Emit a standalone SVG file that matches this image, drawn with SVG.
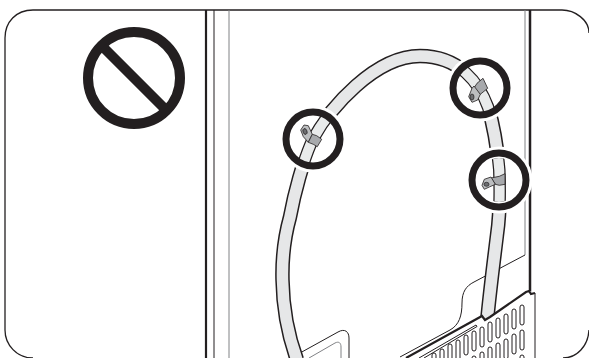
<svg xmlns="http://www.w3.org/2000/svg" width="589" height="358" viewBox="0 0 589 358">
<style>
.ln{fill:none;stroke:#231f20;stroke-width:1}
.clip{fill:#a7a9ac;stroke:#231f20;stroke-width:.8;stroke-linejoin:round}
.tab{fill:#bcbec0;stroke:#231f20;stroke-width:.8;stroke-linejoin:round}
.eye{fill:#6d6e71;stroke:#231f20;stroke-width:.7}
.ring{fill:none;stroke:#231f20;stroke-width:7}
.halo{fill:#fff}
.slot{fill:#fff;stroke:#231f20;stroke-width:1}
.tb{fill:none;stroke:#231f20;stroke-width:14.500}
.tf{fill:none;stroke:#e6e7e8;stroke-width:11.500}
.tbi{fill:none;stroke:#231f20;stroke-width:12.500}
.tfi{fill:none;stroke:#e9ebeb;stroke-width:10}
</style>
<defs>
<rect id="s" x="-2" y="0" width="4" height="20" rx="2" class="slot"/>
<path id="tube" d="M297 360C288 335 283 310 282.500 280C282 260 285 235 290 217C294 195 303 160 313 139C330 108 375 56 420 56C440 56 455 63 466 73C476 82 484 96 488 107C492 120 497 145 499.300 170C500 190 500 215 497 235C494 260 490 290 487 322"/>
<clipPath id="c1"><circle cx="313" cy="139" r="24.500"/></clipPath>
<clipPath id="c2"><circle cx="480" cy="88" r="24.500"/></clipPath>
<clipPath id="c3"><circle cx="499" cy="180" r="22"/></clipPath>
</defs>
<rect id="background" width="589" height="358" fill="#fff"/>
<g id="frame">
<path class="ln" style="stroke-width:1.300" d="M589 33C589 20 575 10 562 10H33C16 10 5 22 5 38V330C5 345 17 358 33 358"/>
<path class="ln" style="stroke-width:1.300" d="M589 330C588 346 577 358 563 358"/>
<path class="ln" style="stroke-width:2.200" d="M206 10V358"/>
<path class="ln" d="M214 10V358"/>
<path class="ln" style="stroke:#808285" d="M229 10V358"/>
<path class="ln" style="stroke:#808285" d="M525 10V255"/>
<path class="ln" style="stroke-width:2.500" d="M530 10V292"/>
</g>
<g id="prohibition-sign">
<circle cx="134" cy="78" r="46" fill="none" stroke="#231f20" stroke-width="10"/>
<path d="M103 47L165 109" stroke="#231f20" stroke-width="10" fill="none"/>
</g>
<g id="back-panel">
<path class="ln" d="M400 357L450 330C459 325 462 316 462 303C462 292 466 286 474 282L525 255"/>
<path class="ln" d="M300 353L338 332C345 328 349 332 349 338V358"/>
<path class="ln" style="stroke:#808285" d="M309 358L335 343C339 341 341 343 341 347V358"/>
</g>
<g id="tube-group">
<use href="#tube" class="tb"/>
<use href="#tube" class="tf"/>
</g>
<g id="vent-panel">
<path fill="#fff" stroke="none" d="M400 358L482 316L485 320L490 317L526 292L530 291L535 293V358Z"/>
<path class="ln" style="stroke-width:2.200" d="M406 358L482 316L485 320L490 317L526 292L529 291L531 294L535 293"/>
<path class="ln" d="M535 293V358"/>
<path class="ln" d="M419 358L476 325L477 326.500L424 358"/>
<g id="slots">
<use href="#s" x="522" y="305"/><use href="#s" x="514" y="309"/><use href="#s" x="506" y="314"/><use href="#s" x="498" y="318"/><use href="#s" x="490" y="322"/><use href="#s" x="482" y="327"/><use href="#s" x="474" y="331"/><use href="#s" x="466" y="335"/><use href="#s" x="458" y="340"/><use href="#s" x="450" y="344"/><use href="#s" x="442" y="349"/><use href="#s" x="434" y="353"/>
<use href="#s" x="522" y="330"/><use href="#s" x="514" y="334"/><use href="#s" x="506" y="339"/><use href="#s" x="498" y="343"/><use href="#s" x="490" y="347"/><use href="#s" x="482" y="352"/><use href="#s" x="474" y="356"/>
<use href="#s" x="522" y="355"/>
</g>
</g>
<g id="clamp-left">
<circle class="halo" cx="313" cy="139" r="33.500"/>
<g clip-path="url(#c1)"><use href="#tube" class="tbi"/><use href="#tube" class="tfi"/></g>
<path class="tab" d="M308.300 125.700L312.300 134.300L308.300 142.300L303.300 136.700L300.700 130L304 125Z"/>
<path class="clip" d="M312.300 134.300L316.700 135.700L321.700 139.300L317.300 146.700L313.300 144.300L308.300 142.300Z"/>
<ellipse class="eye" cx="305" cy="131.500" rx="2" ry="3" transform="rotate(-20 305 131.500)"/>
<circle class="ring" cx="313" cy="139" r="27"/>
</g>
<g id="clamp-top">
<circle class="halo" cx="480" cy="88" r="33.500"/>
<g clip-path="url(#c2)"><use href="#tube" class="tbi"/><use href="#tube" class="tfi"/></g>
<path class="clip" d="M483 78.300L487.700 88.300L480.300 94.300L474 88L477 83.300Z"/>
<path class="tab" d="M480.300 94.300L477.700 100L472 102.300L468.700 96.700L472 88.300L474 86Z"/>
<ellipse class="eye" cx="472" cy="97" rx="2" ry="3"/>
<circle class="ring" cx="480" cy="88" r="27"/>
</g>
<g id="clamp-right">
<circle class="halo" cx="499" cy="180" r="33.500"/>
<g clip-path="url(#c3)"><use href="#tube" class="tbi"/><use href="#tube" class="tfi"/></g>
<path class="clip" d="M505 173.700V184.300L499.300 185.300L495.300 184.300L491 178L499.300 176.300Z"/>
<path class="tab" d="M495.300 184.300L489.300 187L484.300 189.300L482 185.300L484.300 179.300L491 177Z"/>
<ellipse class="eye" cx="486.500" cy="184.300" rx="2.500" ry="2"/>
<circle class="ring" cx="499" cy="180" r="27"/>
</g>
</svg>
